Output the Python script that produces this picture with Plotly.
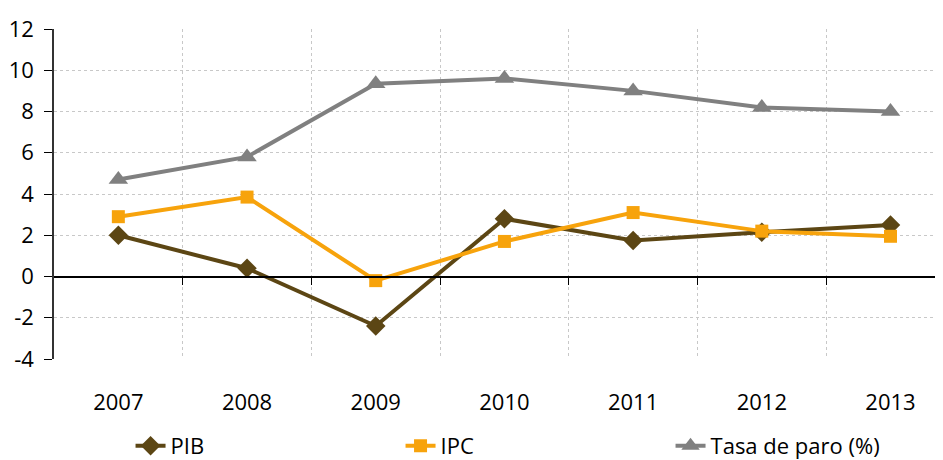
import plotly.graph_objects as go

years = ["2007", "2008", "2009", "2010", "2011", "2012", "2013"]
pib = [2.0, 0.4, -2.4, 2.8, 1.75, 2.15, 2.5]
ipc = [2.9, 3.85, -0.2, 1.7, 3.1, 2.2, 1.95]
paro = [4.7, 5.8, 9.35, 9.6, 9.0, 8.2, 8.0]
y_ticks = [-4, -2, 0, 2, 4, 6, 8, 10, 12]
y_labels = ["-4", "-2", "0", "2", "4", "6", "8", "10", "12"]

xs = list(range(len(years)))
FONT = "Open Sans"

fig = go.Figure()
fig.add_trace(go.Scatter(x=xs, y=pib, name="PIB", mode="lines+markers",
                         line=dict(color="#5c4614", width=4),
                         marker=dict(symbol="diamond", size=15, color="#5c4614")))
fig.add_trace(go.Scatter(x=xs, y=ipc, name="IPC", mode="lines+markers",
                         line=dict(color="#f7a30c", width=4),
                         marker=dict(symbol="square", size=13, color="#f7a30c")))
fig.add_trace(go.Scatter(x=xs, y=paro, name="Tasa de paro (%)", mode="lines+markers",
                         line=dict(color="#808080", width=4),
                         marker=dict(symbol="triangle-up", size=17, color="#808080")))

xr = [-0.5, 6.408]
fig.update_layout(
    width=935, height=452,
    margin=dict(l=46, r=0, t=21, b=101),
    paper_bgcolor="white", plot_bgcolor="white",
    font=dict(family=FONT, size=22, color="black"),
    showlegend=True,
    legend=dict(orientation="h", x=0.0861, xanchor="left",
                yref="container", y=0.031, yanchor="middle",
                entrywidth=225, font=dict(size=22)),
    xaxis=dict(range=xr, tickmode="array", tickvals=xs, ticktext=years,
               showgrid=False, zeroline=False, showline=False, ticks="",
               tickfont=dict(size=22), automargin=False, ticklabelstandoff=28),
    xaxis2=dict(range=xr, overlaying="x", anchor="free", position=0.25,
                tickmode="array", tickvals=[0.5, 1.5, 2.5, 3.5, 4.5, 5.5, 6.5],
                showticklabels=False, ticks="outside", ticklen=8, tickcolor="black",
                showline=True, linecolor="black", linewidth=1.5,
                showgrid=True, gridcolor="#c8c8c8", griddash="dot", gridwidth=1,
                zeroline=False, side="bottom", automargin=False),
    yaxis=dict(range=[-4, 12], tickmode="array", tickvals=y_ticks, ticktext=y_labels,
               showgrid=True, gridcolor="#c8c8c8",
               griddash="dot", gridwidth=1, zeroline=True, zerolinecolor="black",
               zerolinewidth=1.5, showline=True, linecolor="#333333", linewidth=1.5,
               ticks="outside", ticklen=8, tickcolor="black", tickfont=dict(size=22),
               automargin=False, ticklabelstandoff=6),
)
fig.add_trace(go.Scatter(x=[0], y=[0], xaxis="x2", mode="markers",
                         marker=dict(opacity=0), showlegend=False, hoverinfo="skip"))

fig.write_html("out.html")
